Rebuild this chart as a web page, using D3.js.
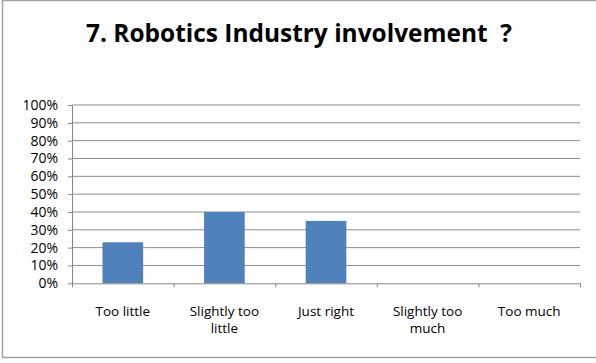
<!DOCTYPE html>
<html>
<head>
<meta charset="utf-8">
<script src="https://cdn.jsdelivr.net/npm/d3@7"></script>
<style>
  html, body { margin: 0; padding: 0; background: #fff; }
  svg { display: block; }
  text { font-family: "Open Sans", "Noto Sans", sans-serif; fill: #000; }
</style>
</head>
<body>
<script>
// Survey question 7: share of answers per category
const categories = ["Too little", "Slightly too little", "Just right", "Slightly too much", "Too much"];
const shares = [0.23, 0.40, 0.35, 0, 0];
const yTicks = [0, 0.1, 0.2, 0.3, 0.4, 0.5, 0.6, 0.7, 0.8, 0.9, 1.0];
const titleText = "7. Robotics Industry involvement  ?";

const W = 596, H = 363;
const plot = { left: 72, right: 580, top: 105, bottom: 283.3 };

const svg = d3.select("body").append("svg")
  .attr("width", W).attr("height", H);

// chart frame
svg.append("rect")
  .attr("x", 2.5).attr("y", 0.5)
  .attr("width", W + 10).attr("height", 357)
  .attr("fill", "#fff")
  .attr("stroke", "#a3a3a3").attr("stroke-width", 1.5);

// title (keeps its double space before the question mark)
svg.append("text")
  .attr("x", 299).attr("y", 41.7)
  .attr("text-anchor", "middle")
  .style("white-space", "pre")
  .attr("xml:space", "preserve")
  .style("font-size", "25px")
  .style("font-weight", 700)
  .attr("textLength", 426)
  .attr("lengthAdjust", "spacingAndGlyphs")
  .text(titleText);

const y = d3.scaleLinear().domain([0, 1]).range([plot.bottom, plot.top]);
const x = d3.scaleBand().domain(categories)
  .range([plot.left, plot.right])
  .paddingInner(0.6).paddingOuter(0.3);
const edges = d3.scaleLinear().domain([0, categories.length]).range([plot.left, plot.right]);

// horizontal gridlines
svg.append("g")
  .selectAll("line")
  .data(yTicks.filter(d => d > 0))
  .join("line")
  .attr("x1", plot.left).attr("x2", plot.right)
  .attr("y1", d => y(d)).attr("y2", d => y(d))
  .attr("stroke", "#8c8c8c").attr("stroke-width", 1);

// bars
svg.append("g")
  .selectAll("rect")
  .data(categories.map((c, i) => ({ c, v: shares[i] })))
  .join("rect")
  .attr("x", d => x(d.c))
  .attr("y", d => y(d.v))
  .attr("width", x.bandwidth())
  .attr("height", d => y(0) - y(d.v))
  .attr("fill", "#4f81bd");

// y axis
const yAxis = svg.append("g")
  .attr("transform", `translate(${plot.left},0)`)
  .call(d3.axisLeft(y).tickValues(yTicks).tickFormat(d3.format(".0%")).tickSize(4).tickPadding(10).tickSizeOuter(0));
yAxis.attr("font-size", null).attr("font-family", null);
yAxis.select(".domain").attr("stroke", "#868686");
yAxis.selectAll(".tick line").attr("stroke", "#868686");
yAxis.selectAll(".tick text")
  .style("font-size", "14px")
  .attr("fill", "#000");

// x axis with category boundary ticks
const xAxis = svg.append("g")
  .attr("transform", `translate(0,${plot.bottom})`)
  .call(d3.axisBottom(edges).tickValues(d3.range(categories.length + 1)).tickFormat("").tickSize(4).tickSizeOuter(0));
xAxis.select(".domain").attr("stroke", "#868686");
xAxis.selectAll(".tick line").attr("stroke", "#868686");

// category labels, wrapped to fit within a band
const maxLabelWidth = 85;
const labels = svg.append("g")
  .style("font-size", "13.5px")
  .selectAll("text")
  .data(categories)
  .join("text")
  .attr("text-anchor", "middle")
  .attr("x", d => x(d) + x.bandwidth() / 2)
  .attr("y", 316);

labels.each(function(label) {
  const t = d3.select(this);
  const words = label.split(" ");
  let lines = [];
  let cur = [];
  const probe = t.append("tspan");
  words.forEach(w => {
    const test = cur.concat(w).join(" ");
    probe.text(test);
    if (probe.node().getComputedTextLength() > maxLabelWidth && cur.length) {
      lines.push(cur.join(" "));
      cur = [w];
    } else {
      cur.push(w);
    }
  });
  if (cur.length) lines.push(cur.join(" "));
  probe.remove();
  lines.forEach((ln, i) => {
    t.append("tspan")
      .attr("x", x(label) + x.bandwidth() / 2)
      .attr("dy", i === 0 ? 0 : 17)
      .text(ln);
  });
});
</script>
</body>
</html>
